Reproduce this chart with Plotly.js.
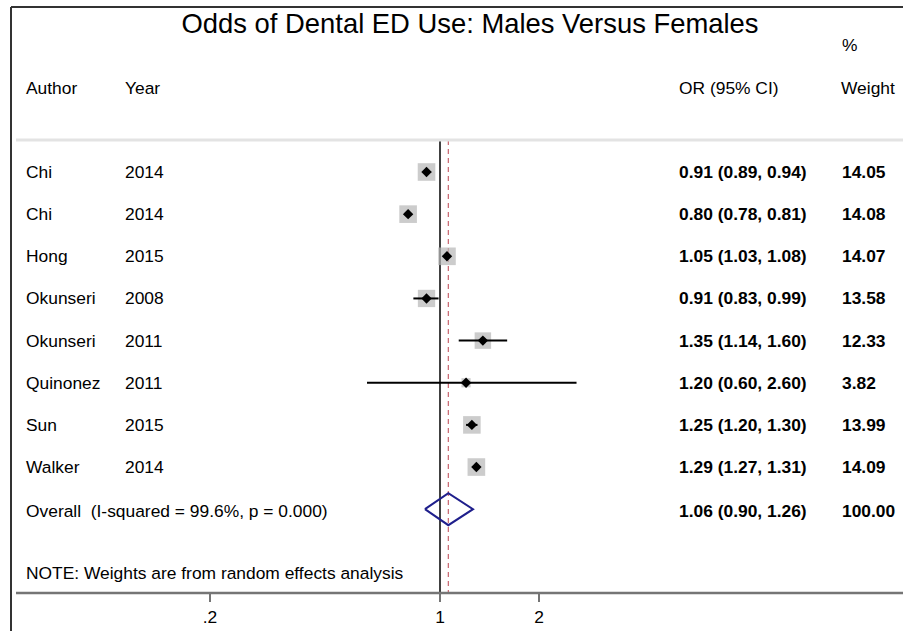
<!DOCTYPE html>
<html>
<head>
<meta charset="utf-8">
<script src="https://cdn.plot.ly/plotly-3.0.1.min.js"></script>
<style>
html,body{margin:0;padding:0;background:#fff;}
#chart{width:903px;height:631px;}
</style>
</head>
<body>
<div id="chart"></div>
<script>
// ---- data ----
const authors = ['Chi','Chi','Hong','Okunseri','Okunseri','Quinonez','Sun','Walker'];
const years = [2014,2014,2015,2008,2011,2011,2015,2014];
const oddsRatios = [0.91,0.80,1.05,0.91,1.35,1.20,1.25,1.29];
const ciLower = [0.89,0.78,1.03,0.83,1.14,0.60,1.20,1.27];
const ciUpper = [0.94,0.81,1.08,0.99,1.60,2.60,1.30,1.31];
const weights = [14.05,14.08,14.07,13.58,12.33,3.82,13.99,14.09];
const overallOR = 1.06;
const overallLower = 0.90;
const overallUpper = 1.26;
const overallWeight = 100.00;
const overallLabel = 'Overall  (I-squared = 99.6%, p = 0.000)';
const noteText = 'NOTE: Weights are from random effects analysis';
const titleText = 'Odds of Dental ED Use: Males Versus Females';
const tickVals = [0.2,1,2];
const tickLabels = ['.2','1','2'];

// ---- layout helpers ----
const W = 903, H = 631, plotBottom = 593;
const rowTop = 172, rowStep = 42.15;
const px = x => x / W;
const py = y => (plotBottom - y) / plotBottom;
const rowOf = y => (y - rowTop) / rowStep;
const pxPerDecade = 329, oneAt = 440;
const FONT = 'Liberation Sans, Arial, sans-serif';
const FS = 17.4;

const n = authors.length;
const rows = authors.map((_, i) => i);
const overallRow = n;

const fmt = v => v.toFixed(2);

const traces = [];
// vertical line at 1
traces.push({x:[1,1], y:[rowOf(140), rowOf(plotBottom)], mode:'lines',
  line:{color:'#111', width:1.6}, hoverinfo:'skip', showlegend:false});
// dashed overall line
traces.push({x:[overallOR,overallOR], y:[rowOf(140), rowOf(plotBottom)], mode:'lines',
  line:{color:'#c8646e', width:1.2, dash:'5px,4px'}, hoverinfo:'skip', showlegend:false});
// weight boxes
traces.push({x:oddsRatios, y:rows, mode:'markers',
  marker:{symbol:'square', color:'#b6b6b6', size:weights.map(w=>4.7*Math.sqrt(w)), line:{width:0}},
  hoverinfo:'skip', showlegend:false});
// CI lines
const cx = [], cy = [];
for (let i = 0; i < n; i++) { cx.push(ciLower[i], ciUpper[i], null); cy.push(rows[i], rows[i], null); }
traces.push({x:cx, y:cy, mode:'lines', line:{color:'#000', width:2}, hoverinfo:'skip', showlegend:false});
// point estimates
traces.push({x:oddsRatios, y:rows, mode:'markers',
  marker:{symbol:'diamond', color:'#000', size:8, line:{width:0}}, hoverinfo:'skip', showlegend:false});
// overall diamond
const h = 16 / rowStep;
traces.push({x:[overallLower, overallOR, overallUpper, overallOR, overallLower],
  y:[overallRow, overallRow - h, overallRow, overallRow + h, overallRow],
  mode:'lines', line:{color:'#1f1f8c', width:2}, hoverinfo:'skip', showlegend:false});

const annotations = [];
const ann = (text, x, y, yref, bold, extra) => Object.assign({
  text: bold ? '<b>' + text + '</b>' : text, x: px(x), xref:'paper', y: y, yref: yref,
  xanchor:'left', yanchor:'middle', showarrow:false,
  font:{family:FONT, size:FS, color:'#000'}
}, extra || {});

// headers
annotations.push(ann('%', 840, py(45), 'paper'));
annotations.push(ann('Author', 24, py(88), 'paper'));
annotations.push(ann('Year', 123, py(88), 'paper'));
annotations.push(ann('OR (95% CI)', 677, py(88), 'paper'));
annotations.push(ann('Weight', 839, py(88), 'paper'));
// rows
for (let i = 0; i < n; i++) {
  annotations.push(ann(authors[i], 24, rows[i], 'y'));
  annotations.push(ann(String(years[i]), 123, rows[i], 'y'));
  annotations.push(ann(fmt(oddsRatios[i]) + ' (' + fmt(ciLower[i]) + ', ' + fmt(ciUpper[i]) + ')', 677, rows[i], 'y', true));
  annotations.push(ann(fmt(weights[i]), 840, rows[i], 'y', true));
}
annotations.push(ann(overallLabel, 24, overallRow + 0.05, 'y'));
annotations.push(ann(fmt(overallOR) + ' (' + fmt(overallLower) + ', ' + fmt(overallUpper) + ')', 677, overallRow + 0.05, 'y', true));
annotations.push(ann(overallWeight.toFixed(2), 840, overallRow + 0.05, 'y', true));
annotations.push(ann(noteText, 24, py(573), 'paper'));

const shapes = [
  // gray separator
  {type:'line', xref:'paper', yref:'paper', x0:px(16), x1:1, y0:py(140), y1:py(140), line:{color:'#e3e3e3', width:3}},
  // axis line
  {type:'line', xref:'paper', yref:'paper', x0:px(16), x1:1, y0:0, y1:0, line:{color:'#757575', width:2.5}},
  // border left
  {type:'line', xref:'paper', yref:'paper', x0:px(11), x1:px(11), y0:py(7), y1:py(H+2), line:{color:'#333', width:2}},
  // border top
  {type:'line', xref:'paper', yref:'paper', x0:px(11), x1:1, y0:py(7), y1:py(7), line:{color:'#333', width:2}}
];

const layout = {
  width:W, height:H,
  margin:{l:0, r:0, t:0, b:H - plotBottom, pad:0},
  paper_bgcolor:'#fff', plot_bgcolor:'#fff',
  title:{text:titleText, x:470/W, xanchor:'center', y:1 - 23/H, yanchor:'middle',
    font:{family:FONT, size:27.4, color:'#000'}},
  xaxis:{type:'log', range:[-oneAt/pxPerDecade, (W - oneAt)/pxPerDecade],
    tickvals:tickVals, ticktext:tickLabels, ticks:'outside', ticklen:8, tickwidth:2, tickcolor:'#757575',
    showgrid:false, zeroline:false, showline:false,
    tickfont:{family:FONT, size:FS, color:'#000'}, fixedrange:true},
  yaxis:{range:[rowOf(plotBottom), rowOf(0)], visible:false, showgrid:false, zeroline:false, fixedrange:true},
  showlegend:false,
  annotations:annotations,
  shapes:shapes
};

Plotly.newPlot('chart', traces, layout, {displayModeBar:false, staticPlot:true});
</script>
</body>
</html>
